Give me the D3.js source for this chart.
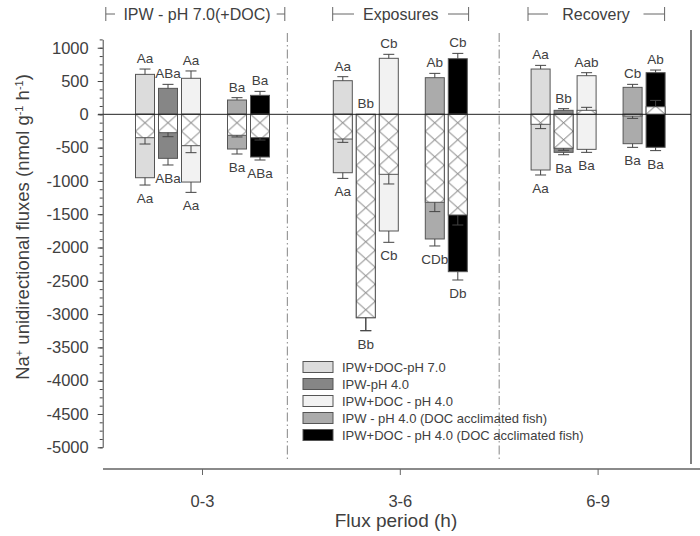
<!DOCTYPE html>
<html><head><meta charset="utf-8">
<script src="https://cdn.jsdelivr.net/npm/d3@7"></script>
<style>body{margin:0;background:#fff}svg{display:block;font-family:"Liberation Sans",Arial,sans-serif}</style>
</head><body><svg id="c" width="700" height="536"></svg>
<script>
// ---------- data ----------
const periods = ["0-3", "3-6", "6-9"];
const seriesNames = ["IPW+DOC-pH 7.0", "IPW-pH 4.0", "IPW+DOC - pH 4.0",
  "IPW - pH 4.0 (DOC acclimated fish)", "IPW+DOC - pH 4.0 (DOC acclimated fish)"];
const phaseLabels = ["IPW - pH 7.0(+DOC)", "Exposures", "Recovery"];
// rows = series, columns = periods
const influx    = [[600, 505, 680], [390, 0, 60], [541, 841, 580], [215, 550, 405], [285, 835, 625]];
const influxErr = [[80, 60, 55], [60, 0, 25], [110, 60, 45], [35, 65, 45], [60, 80, 40]];
const efflux    = [[-952, -877, -836], [-661, -3054, -571], [-1017, -1752, -526], [-521, -1872, -441], [-641, -2363, -495]];
const effluxErr = [[110, 85, 75], [100, 195, 36], [155, 170, 45], [75, 105, 55], [45, 125, 50]];
const net       = [[-351, -371, -150], [-276, -3054, -510], [-471, -901, 60], [-315, -1321, -26], [-351, -1512, 114]];
const netErr    = [[95, 50, 65], [60, 195, 30], [105, 145, 45], [25, 140, 35], [35, 150, 95]];
const topLabels    = [["Aa", "Aa", "Aa"], ["ABa", "Bb", "Bb"], ["Aa", "Cb", "Aab"], ["Ba", "Ab", "Cb"], ["Ba", "Cb", "Ab"]];
const bottomLabels = [["Aa", "Aa", "Aa"], ["ABa", "Bb", "Ba"], ["Aa", "Cb", "Ba"], ["Ba", "CDb", "Ba"], ["ABa", "Db", "Ba"]];
const yMajorTicks = d3.range(-5000, 1001, 500);

// ---------- style ----------
const fills = ["#dcdcdc", "#868686", "#f2f2f2", "#ababab", "#000000"];
const ink = "#404040";

const svg = d3.select("#c");
const y = d3.scaleLinear().domain([-5000, 1125]).range([447.3, 39.4]);
const x = d3.scaleBand().domain(periods).range([103.6, 697]).padding(0);
const xc = p => x(p) + x.bandwidth() / 2;
const slots = [0, 1, 2, 4, 5];
const slot = d3.scaleLinear().domain([0, 5]).range([-57.5, 57.5]);
const BW = 19;
const defs = svg.append("defs");

// separators
[x("3-6") - 14, x("6-9")].forEach(sx => {
  svg.append("line").attr("x1", sx).attr("x2", sx).attr("y1", 33).attr("y2", 462)
    .attr("stroke", "#9a9a9a").attr("stroke-width", 1.2).attr("stroke-dasharray", "9,3,1.5,3");
});
// right frame
svg.append("line").attr("x1", 691).attr("x2", 691).attr("y1", 30).attr("y2", 464)
  .attr("stroke", "#555").attr("stroke-width", 1.5);

// bars
const gBars = svg.append("g");
const gErr = svg.append("g").attr("stroke", "#444").attr("stroke-width", 1);
const gLab = svg.append("g").attr("fill", ink).attr("font-size", 13.5).attr("text-anchor", "middle");

function errBar(cx, v, e, dir) {
  if (!e) return;
  const y1 = y(v), y2 = y(v + dir * e);
  gErr.append("line").attr("x1", cx).attr("x2", cx).attr("y1", y1).attr("y2", y2);
  gErr.append("line").attr("x1", cx - 5.5).attr("x2", cx + 5.5).attr("y1", y2).attr("y2", y2);
}

periods.forEach((p, pi) => {
  seriesNames.forEach((s, si) => {
    const cx = xc(p) + slot(slots[si]);
    const x0 = cx - BW / 2;
    const id = "h" + pi + "_" + si;
    const pat = defs.append("pattern").attr("id", id).attr("patternUnits", "userSpaceOnUse")
      .attr("x", x0).attr("y", y(0)).attr("width", BW).attr("height", 17);
    pat.append("rect").attr("width", BW).attr("height", 17).attr("fill", "#fff");
    pat.append("line").attr("x1", 0).attr("y1", 0).attr("x2", BW).attr("y2", 17).attr("stroke", "#444").attr("stroke-width", 0.8);
    pat.append("line").attr("x1", 0).attr("y1", 17).attr("x2", BW).attr("y2", 0).attr("stroke", "#444").attr("stroke-width", 0.8);

    const inf = influx[si][pi], eff = efflux[si][pi], nt = net[si][pi];
    if (inf > 0) {
      gBars.append("rect").attr("x", x0).attr("width", BW).attr("y", y(inf)).attr("height", y(0) - y(inf))
        .attr("fill", fills[si]).attr("stroke", "#555").attr("stroke-width", 1);
    }
    gBars.append("rect").attr("x", x0).attr("width", BW).attr("y", y(0)).attr("height", y(eff) - y(0))
      .attr("fill", fills[si]).attr("stroke", "#555").attr("stroke-width", 1);
    gBars.append("rect").attr("x", x0).attr("width", BW)
      .attr("y", Math.min(y(0), y(nt))).attr("height", Math.abs(y(nt) - y(0)))
      .attr("fill", "url(#" + id + ")").attr("stroke", "#555").attr("stroke-width", 1);

    errBar(cx, inf, influxErr[si][pi], 1);
    errBar(cx, eff, effluxErr[si][pi], -1);
    errBar(cx, nt, netErr[si][pi], nt >= 0 ? 1 : -1);

    gLab.append("text").attr("x", cx).attr("y", y(inf + influxErr[si][pi]) - 6).text(topLabels[si][pi]);
    gLab.append("text").attr("x", cx).attr("y", y(eff - effluxErr[si][pi]) + 18).text(bottomLabels[si][pi]);
  });
});

// zero line
svg.append("line").attr("x1", 98).attr("x2", 691).attr("y1", y(0)).attr("y2", y(0))
  .attr("stroke", "#222").attr("stroke-width", 1);

// y axis
const yAxisX = 102.7;
const gyMinor = svg.append("g").attr("transform", `translate(${yAxisX},0)`)
  .call(d3.axisLeft(y).tickValues(d3.range(-5000, 1126, 125)).tickSize(3).tickSizeOuter(0).tickFormat(""));
gyMinor.select(".domain").remove();
gyMinor.selectAll("line").attr("stroke", "#444");
const gy = svg.append("g").attr("transform", `translate(${yAxisX},0)`)
  .call(d3.axisLeft(y).tickValues(yMajorTicks).tickSize(5).tickSizeOuter(0).tickPadding(9)
    .tickFormat(d => String(d)));
gy.select(".domain").attr("stroke", "#444");
gy.selectAll("line").attr("stroke", "#444");
gy.selectAll("text").attr("font-size", 16.5).attr("fill", ink).attr("font-family", '"Liberation Sans",Arial,sans-serif');

// x axis
svg.append("line").attr("x1", 103).attr("x2", 700).attr("y1", 469).attr("y2", 469)
  .attr("stroke", "#8a8a8a").attr("stroke-width", 2);
const gx = svg.append("g").attr("transform", "translate(0,469)")
  .call(d3.axisBottom(x).tickSize(6).tickSizeOuter(0).tickPadding(20));
gx.select(".domain").remove();
gx.selectAll("line").attr("stroke", "#666");
gx.selectAll("text").attr("font-size", 16.5).attr("fill", ink).attr("font-family", '"Liberation Sans",Arial,sans-serif');

// titles
svg.append("text").attr("x", 396).attr("y", 527).attr("text-anchor", "middle")
  .attr("font-size", 19).attr("fill", ink).text("Flux period (h)");
const yt = svg.append("text").attr("transform", "translate(29,227) rotate(-90)")
  .attr("text-anchor", "middle").attr("font-size", 18.5).attr("fill", ink);
yt.append("tspan").text("Na");
yt.append("tspan").attr("baseline-shift", "super").attr("font-size", 11).text("+");
yt.append("tspan").text(" unidirectional fluxes (nmol g");
yt.append("tspan").attr("baseline-shift", "super").attr("font-size", 11).text("-1");
yt.append("tspan").text(" h");
yt.append("tspan").attr("baseline-shift", "super").attr("font-size", 11).text("-1");
yt.append("tspan").text(")");

// header phases
const phaseGeom = [
  {c: 197, l0: 105.8, l1: 115, r0: 276.7, r1: 284.8},
  {c: 400.8, l0: 332.7, l1: 354, r0: 448, r1: 468.6},
  {c: 596, l0: 528, l1: 548, r0: 643.5, r1: 664.6}
];
const gh = svg.append("g");
phaseLabels.forEach((t, i) => {
  const g = phaseGeom[i];
  gh.append("text").attr("x", g.c).attr("y", 20).attr("text-anchor", "middle")
    .attr("font-size", 16).attr("fill", ink).text(t);
  const st = l => l.attr("stroke", "#666").attr("stroke-width", 1);
  st(gh.append("line").attr("x1", g.l0).attr("x2", g.l0).attr("y1", 7).attr("y2", 21));
  st(gh.append("line").attr("x1", g.l0).attr("x2", g.l1).attr("y1", 14).attr("y2", 14));
  st(gh.append("line").attr("x1", g.r0).attr("x2", g.r1).attr("y1", 14).attr("y2", 14));
  st(gh.append("line").attr("x1", g.r1).attr("x2", g.r1).attr("y1", 7).attr("y2", 21));
});

// legend
const gl = svg.append("g").attr("transform", "translate(303,367)");
seriesNames.forEach((s, i) => {
  gl.append("rect").attr("x", 0).attr("y", i * 17 - 5.5).attr("width", 30).attr("height", 11)
    .attr("fill", fills[i]).attr("stroke", "#555").attr("stroke-width", 1);
  gl.append("text").attr("x", 39).attr("y", i * 17).attr("dy", "0.35em")
    .attr("font-size", 13).attr("fill", ink).text(s);
});
</script></body></html>
